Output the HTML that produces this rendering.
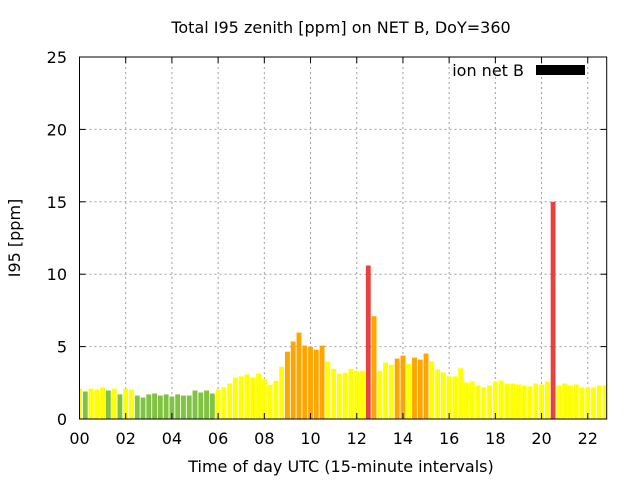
<!DOCTYPE html>
<html><head><meta charset="utf-8"><style>
body{margin:0;background:#fff;}
svg{display:block;font-family:"DejaVu Sans","Liberation Sans",sans-serif;}
</style></head><body>
<svg id="chart" width="640" height="480">
<defs><clipPath id="pc"><rect x="79.5" y="57" width="527.2" height="362"/></clipPath></defs>
<text x="341" y="33" font-size="16" text-anchor="middle">Total I95 zenith [ppm] on NET B, DoY=360</text>
<g id="grid"></g>
<g id="bars" clip-path="url(#pc)"></g>
<rect x="79.5" y="57" width="527.2" height="362" fill="none" stroke="#000" stroke-width="1"/>
<g id="axes"></g>
<text x="341" y="472" font-size="16" text-anchor="middle">Time of day UTC (15-minute intervals)</text>
<text transform="translate(20,238) rotate(-90)" font-size="16" text-anchor="middle">I95 [ppm]</text>
<g>
<text x="524" y="76" font-size="16" text-anchor="end">ion net B</text>
<rect x="536" y="65" width="49" height="10" fill="#000"/>
</g>
</svg>
<script>
const hours = [];
const values = [2.1,1.9,2.1,2.04,2.18,1.97,2.1,1.7,2.1,2.04,1.62,1.48,1.7,1.76,1.62,1.7,1.55,1.7,1.62,1.62,1.97,1.83,1.97,1.76,2.04,2.18,2.45,2.87,2.94,3.08,
2.86,3.13,2.78,2.36,2.64,3.61,4.65,5.35,5.97,5.07,4.98,4.79,5.07,3.96,3.47,3.13,3.19,3.47,3.33,3.33,10.6,7.1,3.33,3.9,3.75,4.17,4.38,3.82,4.24,4.1,4.52,
3.98,3.43,3.22,2.94,2.94,3.5,2.52,2.59,2.31,2.18,2.31,2.59,2.66,2.45,2.45,2.38,2.31,2.25,2.45,2.38,2.59,15.0,2.31,2.45,2.31,2.38,2.18,2.18,2.18,2.31,2.31];
for (let i = 0; i < values.length; i++) hours.push(i * 0.25);
const xTicks = [0,2,4,6,8,10,12,14,16,18,20,22];
const xTickLabels = ["00","02","04","06","08","10","12","14","16","18","20","22"];
const yTicks = [0,5,10,15,20,25];
const colorThresholds = [2,4,10];
const colors = ["#80c342","#ffff00","#ffa500","#e8413f"];

const X0=79.5,X1=606.7,XMAX=22.82,Y0=419,Y1=57,YMAX=25;
const sx = h => X0 + h/XMAX*(X1-X0);
const sy = v => Y0 - v/YMAX*(Y0-Y1);
const NS="http://www.w3.org/2000/svg";
function mk(tag, attrs, parent){const e=document.createElementNS(NS,tag);for(const k in attrs)e.setAttribute(k,attrs[k]);parent.appendChild(e);return e;}
const grid=document.getElementById('grid'), bars=document.getElementById('bars'), axes=document.getElementById('axes');

xTicks.forEach((t,i)=>{
  const x=sx(t);
  if(t>0){const g=mk('line',{x1:x,x2:x,y1:Y1,y2:Y0,stroke:'#a0a0a0','stroke-dasharray':'2,3'},grid);
  
  }
  const tk=mk('line',{x1:x,x2:x,y1:Y0,y2:Y0-6,stroke:'#000'},axes);
  
  
  const tk2=mk('line',{x1:x,x2:x,y1:Y1,y2:Y1+6,stroke:'#000'},axes);
  
  
  const lb=mk('text',{x:x,y:444,'font-size':16,'text-anchor':'middle'},axes);
  lb.textContent=xTickLabels[i];
  
  
});
yTicks.forEach(t=>{
  const y=sy(t);
  if(t>0&&t<YMAX){const g=mk('line',{x1:X0,x2:X1,y1:y,y2:y,stroke:'#a0a0a0','stroke-dasharray':'2,3'},grid);
  
  }
  const tk=mk('line',{x1:X0,x2:X0+6,y1:y,y2:y,stroke:'#000'},axes);
  
  
  const tk2=mk('line',{x1:X1,x2:X1-6,y1:y,y2:y,stroke:'#000'},axes);
  
  
  const lb=mk('text',{x:67,y:y+6,'font-size':16,'text-anchor':'end'},axes);
  lb.textContent=String(t);
  
  
});
const bw = 0.21;
values.forEach((v,i)=>{
  let c=colors[colors.length-1];
  for(let k=0;k<colorThresholds.length;k++){ if(v<colorThresholds[k]){c=colors[k];break;} }
  const xa=sx(hours[i]-bw/2), xb=sx(hours[i]+bw/2);
  const r=mk('rect',{x:xa,y:sy(v),width:xb-xa,height:Y0-sy(v),fill:c},bars);
  
  
});
</script>
</body></html>
